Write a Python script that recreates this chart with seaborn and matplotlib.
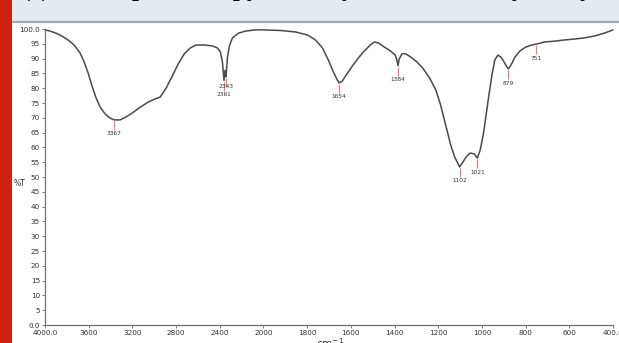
import numpy as np
import pandas as pd
import matplotlib
matplotlib.use("Agg")
import matplotlib.pyplot as plt
from matplotlib.patches import Rectangle
import seaborn as sns

# FTIR spectrum: wavenumber (cm-1) and transmittance (%T)
wavenumber = [4000, 3954, 3900, 3844, 3789, 3734, 3679, 3642, 3605, 3569,
              3532, 3495, 3450, 3404, 3367, 3312, 3257, 3202, 3128, 3055,
              2991, 2945, 2890, 2835, 2780, 2725, 2670, 2615, 2541, 2468,
              2422, 2394, 2376, 2361, 2352, 2343, 2330, 2312, 2284, 2229,
              2165, 2073, 2000, 1922, 1854, 1799, 1762, 1730, 1703, 1680,
              1662, 1654, 1639, 1621, 1593, 1566, 1538, 1511, 1493, 1474,
              1447, 1419, 1397, 1389, 1384, 1379, 1366, 1348, 1325, 1298,
              1271, 1239, 1211, 1189, 1166, 1143, 1125, 1102, 1090, 1072,
              1054, 1035, 1021, 1008, 994, 981, 968, 954, 941, 927,
              913, 899, 886, 879, 867, 849, 826, 799, 771, 751,
              714, 667, 622, 577, 531, 486, 440, 400]
transmittance = [99.7, 99.3, 98.6, 97.6, 96.3, 94.6, 91.9, 88.9, 85.1, 80.7,
                 76.7, 73.6, 71.3, 69.9, 69.3, 69.3, 70.3, 71.6, 73.6, 75.3,
                 76.4, 77.0, 80.1, 84.1, 88.2, 91.6, 93.6, 94.6, 94.6, 94.3,
                 93.6, 92.2, 88.9, 82.6, 86.0, 83.8, 90.2, 94.3, 97.0, 98.6,
                 99.3, 99.7, 99.7, 99.5, 99.0, 98.0, 96.3, 93.6, 89.5, 85.5,
                 82.8, 81.8, 82.4, 84.5, 87.5, 90.2, 92.6, 94.6, 95.6, 95.3,
                 93.9, 92.6, 91.2, 89.5, 87.6, 89.8, 91.6, 91.6, 90.5, 88.9,
                 86.8, 83.4, 79.4, 74.3, 67.6, 60.8, 56.8, 53.4, 54.7, 56.8,
                 58.1, 57.8, 56.4, 59.1, 64.2, 70.9, 77.7, 84.5, 89.5, 91.2,
                 90.5, 88.9, 87.2, 86.5, 87.8, 90.5, 92.6, 93.9, 94.6, 94.9,
                 95.6, 95.9, 96.3, 96.6, 97.0, 97.6, 98.6, 99.7]

# Labelled absorption bands
peak_positions = [3367, 2343, 2361, 1654, 1384, 1102, 1021, 879, 751]

x_ticks = [4000, 3600, 3200, 2800, 2400, 2000, 1800, 1600, 1400, 1200, 1000, 800, 600, 400]
x_tick_labels = ["4000.0", "3600", "3200", "2800", "2400", "2000", "1800", "1600",
                 "1400", "1200", "1000", "800", "600", "400.0"]
y_ticks = list(range(0, 101, 5))
y_tick_labels = ["0.0"] + [str(v) for v in y_ticks[1:-1]] + ["100.0"]

spectrum = pd.DataFrame({"wavenumber": wavenumber, "T": transmittance})

sns.set_theme(style="white")
plt.rcParams["font.family"] = ["DejaVu Sans"]

W, H = 619, 343
fig = plt.figure(figsize=(W / 100, H / 100), dpi=100)
fig.patch.set_facecolor("white")

# Header band with caption and side accent bar
fig.add_artist(Rectangle((12 / W, 1 - 21 / H), 1, 21 / H, transform=fig.transFigure,
                         facecolor="#e3eaf0", edgecolor="none", zorder=0))
fig.add_artist(plt.Line2D([12 / W, 1], [1 - 22 / H, 1 - 22 / H], transform=fig.transFigure,
                          color="#a4a9ae", lw=1.6, zorder=1))
fig.text(22 / W, 1 + 4 / H, "(c) FTIR spectroscopy of the synthesized catalyst, x, y, z sample layer",
         fontsize=18, fontweight="bold", family=["Liberation Serif", "DejaVu Serif"],
         color="black", va="baseline", ha="left")

ax = fig.add_axes([45 / W, (H - 325) / H, (613 - 45) / W, (325 - 29) / H])


# Wavenumber axis expanded by a factor of two below 2000 cm-1
def fwd(w):
    w = np.asarray(w, dtype=float)
    return np.where(w <= 2000, 2 * w, w + 2000)


def inv(u):
    u = np.asarray(u, dtype=float)
    return np.where(u <= 4000, u / 2, u - 2000)


ax.set_xscale("function", functions=(fwd, inv))

sns.lineplot(data=spectrum, x="wavenumber", y="T", ax=ax, color="#4a4a4a",
             lw=1.1, estimator=None, sort=False, clip_on=False)

ax.set_xlim(4000, 400)
ax.set_ylim(0, 100)
ax.set_xticks(x_ticks)
ax.set_xticklabels(x_tick_labels)
ax.set_yticks(y_ticks)
ax.set_yticklabels(y_tick_labels)
ax.minorticks_off()
ax.tick_params(axis="both", which="major", direction="out", length=2, width=0.6,
               color="#666666", labelsize=5.2, labelcolor="#333333", pad=1.5,
               bottom=True, left=True)
ax.set_xlabel("")
ax.set_ylabel("")
for side in ["top", "right"]:
    ax.spines[side].set_visible(False)
for side in ["left", "bottom"]:
    ax.spines[side].set_color("#707070")
    ax.spines[side].set_linewidth(0.9)

# Peak markers: short red tick under the band and its wavenumber
lookup = dict(zip(wavenumber, transmittance))
label_shift = {2343: -1.6}
for w in peak_positions:
    t = lookup[w]
    ax.plot([w, w], [t - 0.4, t - 3.4], color="#f08080", lw=0.9, solid_capstyle="butt")
    ax.text(w, t - 3.9 - label_shift.get(w, 0.0), str(w), ha="center", va="top",
            fontsize=4.2, color="#333333")

fig.text(19 / W, (H - 183) / H, "%T", fontsize=5.5, color="#333333", ha="center", va="center")
fig.text(330 / W, -5 / H, "cm$^{-1}$", fontsize=7.5, color="#333333", ha="center", va="baseline")

# Left accent bar drawn on top
fig.add_artist(Rectangle((0, 0), 12 / W, 1, transform=fig.transFigure,
                         facecolor="#d0200f", edgecolor="none", zorder=10))

fig.savefig("out.png", dpi=100)
